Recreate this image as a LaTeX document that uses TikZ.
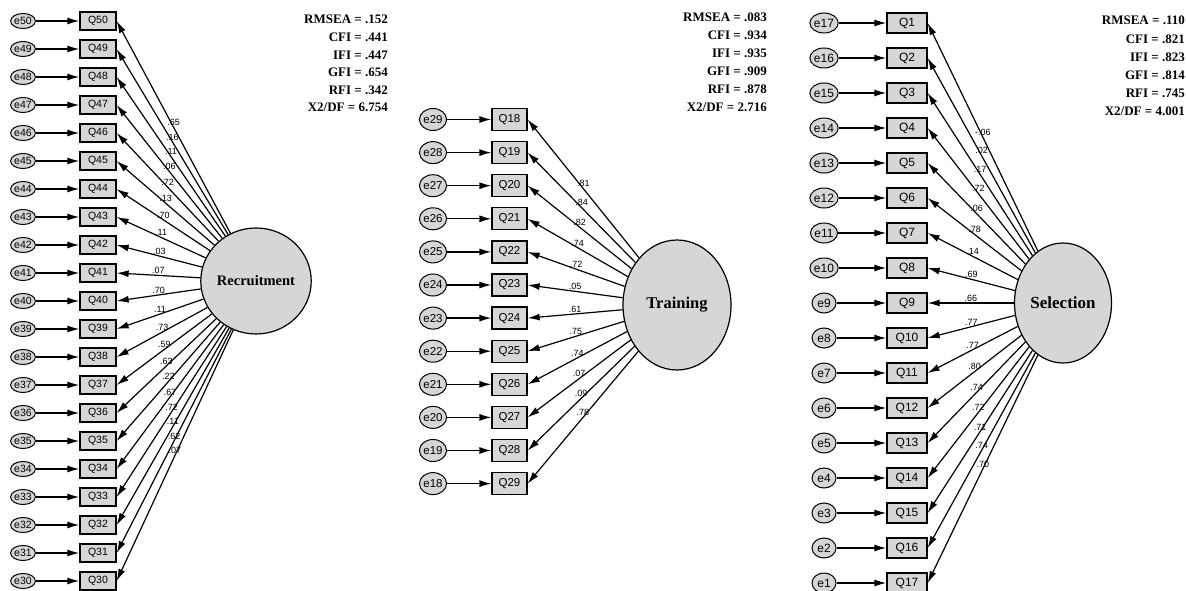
\documentclass[tikz,border=0pt]{standalone}
\usepackage{fontspec}
\setmainfont{Liberation Serif}
\setsansfont{Liberation Sans}
\usetikzlibrary{shapes.geometric, arrows.meta}
\usepackage{xcolor}
\definecolor{amosGray}{RGB}{214, 214, 214}

\begin{document}
\begin{tikzpicture}
    [
		x=1pt, y=-1pt,
		err/.style={
			draw, ellipse, inner sep=0pt, fill=amosGray, line width=1pt
		},
		item/.style={
			draw, rectangle, inner sep=0pt, fill=amosGray, line width=1.3pt
		},
		factor/.style={
			draw, ellipse, inner sep=0pt, fill=amosGray, line width=1.2pt
		},
		errpath/.style={-{Latex[length=12pt, width=7pt]}, line width=1.3pt},
		loading/.style={-{Latex[length=12pt, width=7pt]}, line width=1.2pt},
		load/.style={font=\sffamily\fontsize{9}{10}\selectfont, inner sep=1pt, above},
		fitstats/.style={
			anchor=north east, align=right, inner sep=0pt,
			font=\rmfamily\bfseries\fontsize{13}{17.6}\selectfont
		}
	]

\useasboundingbox (0,0) rectangle (1186,591);

% Recruitment
\node (rec) [factor, minimum width=88, minimum height=106,
	font=\rmfamily\bfseries\fontsize{14.5}{16}\selectfont] at (256,281) {Recruitment};

\foreach \q/\w [count=\i from 0] in {50/.65, 49/.16, 48/.11, 47/.06, 46/.72,
	45/.13, 44/.70, 43/.11, 42/.03, 41/.07, 40/.70, 39/.11, 38/.73, 37/.59,
	36/.63, 35/.22, 34/.67, 33/.72, 32/.11, 31/.62, 30/.07} {
	\node (err\q) [err, minimum width=23, minimum height=15,
		font=\sffamily\fontsize{10.5}{11}\selectfont] at (23, {21+28*\i}) {e\q};
	\node (q\q) [item, minimum width=36, minimum height=18,
		font=\sffamily\fontsize{10.5}{11}\selectfont] at (98, {21+28*\i}) {Q\q};
	\draw [errpath] (err\q) -- (q\q);
	\draw [loading] (rec) -- node [load] {\w} (q\q.east);
}

\node (fitrec) [fitstats] at (388,15) {RMSEA = .152\\ CFI = .441\\ IFI = .447\\
	GFI = .654\\ RFI = .342\\ X2/DF = 6.754};

% Training
\node (trn) [factor, minimum width=108, minimum height=130,
	font=\rmfamily\bfseries\fontsize{16.5}{18}\selectfont] at (677,305) {Training};

\foreach \q/\w [count=\i from 0] in {18/.81, 19/.84, 20/.82, 21/.74, 22/.72,
	23/.05, 24/.61, 25/.75, 26/.74, 27/.07, 28/.09, 29/.78} {
	\pgfmathtruncatemacro{\e}{47-\q}
	\node (err\e) [err, minimum width=22, minimum height=22,
		font=\sffamily\fontsize{11.5}{12}\selectfont] at (433, {119.5+33.1*\i}) {e\e};
	\node (q\q) [item, minimum width=35, minimum height=22,
		font=\sffamily\fontsize{11.5}{12}\selectfont] at (509.5, {119.5+33.1*\i}) {Q\q};
	\draw [errpath] (err\e) -- (q\q);
	\draw [loading] (trn) -- node [load] {\w} (q\q.east);
}

\node (fittrn) [fitstats, font=\rmfamily\bfseries\fontsize{13}{18}\selectfont]
	at (767,13) {RMSEA = .083\\ CFI = .934\\ IFI = .935\\
	GFI = .909\\ RFI = .878\\ X2/DF = 2.716};

% Selection
\node (sel) [factor, minimum width=97, minimum height=120,
	font=\rmfamily\bfseries\fontsize{17}{18}\selectfont] at (1063,303) {Selection};

\foreach \q/\w [count=\i from 0] in {1/-.06, 2/.02, 3/.17, 4/.72, 5/.06,
	6/.78, 7/.14, 8/.69, 9/.66, 10/.77, 11/.77, 12/.80, 13/.74, 14/.72,
	15/.71, 16/.74, 17/.70} {
	\pgfmathtruncatemacro{\e}{18-\q}
	\node (err\e) [err, minimum width=24, minimum height=20,
		font=\sffamily\fontsize{12}{13}\selectfont] at (824, {23+35*\i}) {e\e};
	\node (q\q) [item, minimum width=40, minimum height=20,
		font=\sffamily\fontsize{12}{13}\selectfont] at (907, {23+35*\i}) {Q\q};
	\draw [errpath] (err\e) -- (q\q);
	\draw [loading] (sel) -- node [load] {\w} (q\q.east);
}

\node (fitsel) [fitstats, font=\rmfamily\bfseries\fontsize{13}{18.2}\selectfont]
	at (1185,16) {RMSEA = .110\\ CFI = .821\\ IFI = .823\\
	GFI = .814\\ RFI = .745\\ X2/DF = 4.001};

\end{tikzpicture}
\end{document}
